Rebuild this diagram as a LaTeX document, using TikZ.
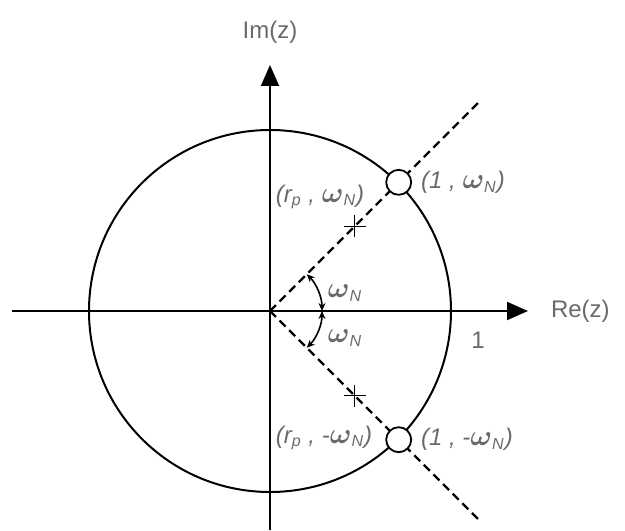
\documentclass[tikz,border=0pt]{standalone}
\usepackage{amsmath}
\usepackage{fontspec}
\setmainfont{Liberation Sans}
\usetikzlibrary{arrows.meta,positioning,shapes.misc}
\definecolor{coltexto}{HTML}{6A6A6A}
\newcommand{\omN}{{\fontsize{14.5}{14}\selectfont$\boldsymbol{\omega}$}\textsubscript{N}}

\begin{document}
\begin{tikzpicture}[
  x=0.5pt,y=0.5pt,
  font=\fontsize{12}{14}\selectfont,
  eje/.style={line width=1pt,-{Triangle[length=10.5pt,width=9pt]}},
  radial/.style={line width=1.1pt,dash pattern=on 4.2pt off 2.6pt},
  polo/.style={draw,circle,fill=white,line width=0.9pt,minimum size=12.5pt,inner sep=0pt},
  cruz/.style={draw,cross out,rotate=45,line width=0.6pt,minimum size=7pt,inner sep=0pt},
  angulo/.style={line width=0.8pt,{Stealth[length=4pt,width=3.5pt]}-{Stealth[length=4pt,width=3.5pt]}},
  etq/.style={coltexto,font=\fontsize{12}{14}\selectfont\itshape},
]
  \useasboundingbox (-270,-219) rectangle (355,311);
  % ---- ejes ----
  \coordinate (O)  at (0,0);
  \coordinate (xl) at (-258,0);
  \coordinate (xr) at (258,0);
  \coordinate (yb) at (0,-219);
  \coordinate (yt) at (0,246);
  \draw[eje] (xl) -- (xr);
  \draw[eje] (yb) -- (yt);
  \node[coltexto,anchor=west,right=8pt of xr] (re) {Re(z)};
  \node[coltexto,above=7pt of yt] (im) {Im(z)};
  % ---- circulo unidad ----
  \draw[line width=1pt] (O) circle (181);
  \node[coltexto] (uno) at (208,-29) {1};
  % ---- rectas a +/- omega_N ----
  \coordinate (ue) at (45:294);
  \coordinate (le) at (-45:297);
  \draw[radial] (O) -- (ue);
  \draw[radial] (O) -- (le);
  \node[polo] (p1) at (45:182)  {};
  \node[polo] (p2) at (-45:182) {};
  \node[cruz] (x1) at (45:120)  {};
  \node[cruz] (x2) at (-45:120) {};
  % ---- angulos ----
  \coordinate (a0) at (0:52);
  \draw[angulo] (a0) arc[start angle=0,end angle=45,radius=52];
  \draw[angulo] (a0) arc[start angle=0,end angle=-45,radius=52];
  \node[etq] (w1) at (75,18)  {\omN};
  \node[etq] (w2) at (75,-27) {\omN};
  % ---- etiquetas ----
  \node[etq,anchor=west,right=1pt of p1] (l1) {(1 , \omN)};
  \node[etq,anchor=west,right=1pt of p2] (l2) {(1 , -\omN)};
  \node[etq] (l3) at (50,114)  {(r\textsubscript{p} , \omN)};
  \node[etq] (l4) at (54,-127) {(r\textsubscript{p} , -\omN)};
\end{tikzpicture}
\end{document}
